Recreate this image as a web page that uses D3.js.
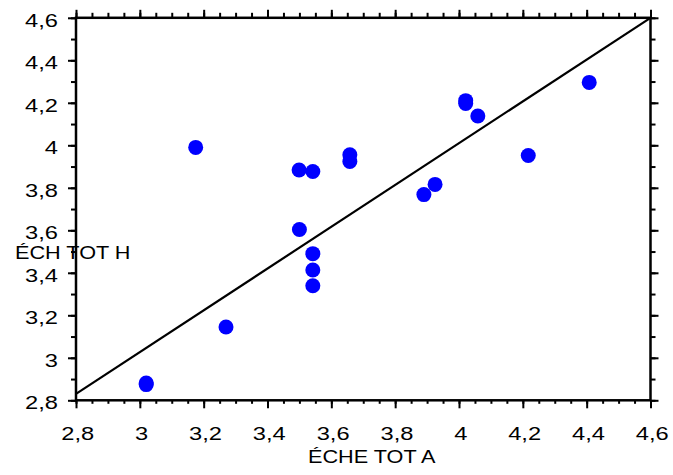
<!DOCTYPE html>
<html>
<head>
<meta charset="utf-8">
<script src="https://cdn.jsdelivr.net/npm/d3@7"></script>
<style>
  body { margin: 0; background: #fff; }
  svg { display: block; font-family: "Liberation Sans", Arial, sans-serif; }
</style>
</head>
<body>
<script>
// values
const xValues = [3.02, 3.02, 3.27, 3.175, 3.499, 3.542, 3.658, 3.658, 3.5, 3.542, 3.542, 3.542,
  3.89, 3.925, 4.021, 4.021, 4.059, 4.217, 4.408];
const yValues = [2.881, 2.874, 3.145, 3.99, 3.884, 3.877, 3.955, 3.924, 3.604, 3.49, 3.413, 3.339,
  3.768, 3.816, 4.21, 4.197, 4.138, 3.952, 4.296];
const lineX = [2.8, 4.6];
const lineY = [2.83, 4.6];
const majorTicks = [2.8, 3, 3.2, 3.4, 3.6, 3.8, 4, 4.2, 4.4, 4.6];
const xMinorTicks = d3.range(2.8, 4.6001, 0.05).map(v => +v.toFixed(2));
const yMinorTicks = d3.range(2.8, 4.6001, 0.1).map(v => +v.toFixed(1));
const xTitle = "ÉCHE TOT A";
const yTitle = "ÉCH TOT H";

const width = 673, height = 475;
const plotLeft = 76, plotRight = 650.5, plotTop = 17.8, plotBottom = 400.3;

const fmt = d3.formatLocale({ decimal: ",", thousands: ".", grouping: [3], currency: ["", ""] }).format(".1~f");

const x = d3.scaleLinear().domain([2.8, 4.6]).range([plotLeft, plotRight]);
const y = d3.scaleLinear().domain([2.8, 4.6]).range([plotBottom, plotTop]);

const svg = d3.select("body").append("svg")
  .attr("width", width)
  .attr("height", height);

const sx = 1.28;

function styleAxis(g) {
  g.select(".domain").remove();
  g.selectAll(".tick line").attr("stroke", "#000").attr("stroke-width", 2);
  g.selectAll("text").attr("fill", "#000").style("font-size", "18.5px");
}

// minor ticks
svg.append("g").attr("transform", `translate(${plotLeft},0)`)
  .call(d3.axisLeft(y).tickValues(yMinorTicks).tickSize(5).tickFormat(""))
  .call(styleAxis);
svg.append("g").attr("transform", `translate(${plotRight},0)`)
  .call(d3.axisRight(y).tickValues(yMinorTicks).tickSize(5).tickFormat(""))
  .call(styleAxis);
svg.append("g").attr("transform", `translate(0,${plotTop})`)
  .call(d3.axisTop(x).tickValues(xMinorTicks).tickSize(5).tickFormat(""))
  .call(styleAxis);
svg.append("g").attr("transform", `translate(0,${plotBottom})`)
  .call(d3.axisBottom(x).tickValues(xMinorTicks).tickSize(3.5).tickFormat(""))
  .call(styleAxis);

// major ticks
svg.append("g").attr("transform", `translate(${plotLeft},0)`)
  .call(d3.axisLeft(y).tickValues(majorTicks).tickSize(8).tickFormat(fmt))
  .call(styleAxis)
  .call(g => g.selectAll("text")
    .attr("x", -18 / sx)
    .attr("dy", 8.5)
    .attr("transform", `scale(${sx},1)`));
svg.append("g").attr("transform", `translate(${plotRight},0)`)
  .call(d3.axisRight(y).tickValues(majorTicks).tickSize(8).tickFormat(""))
  .call(styleAxis);
svg.append("g").attr("transform", `translate(0,${plotTop})`)
  .call(d3.axisTop(x).tickValues(majorTicks).tickSize(8).tickFormat(""))
  .call(styleAxis);
svg.append("g").attr("transform", `translate(0,${plotBottom})`)
  .call(d3.axisBottom(x).tickValues(majorTicks).tickSize(8).tickFormat(fmt))
  .call(styleAxis)
  .call(g => g.selectAll("text")
    .attr("x", 1)
    .attr("y", 40)
    .attr("dy", 0)
    .attr("transform", `scale(${sx},1)`));

// frame
svg.append("rect")
  .attr("x", plotLeft).attr("y", plotTop)
  .attr("width", plotRight - plotLeft).attr("height", plotBottom - plotTop)
  .attr("fill", "none")
  .attr("stroke", "#000")
  .attr("stroke-width", 2.5);

// diagonal line
svg.append("path")
  .datum(lineX.map((d, i) => [d, lineY[i]]))
  .attr("fill", "none")
  .attr("stroke", "#000")
  .attr("stroke-width", 2.2)
  .attr("d", d3.line().x(d => x(d[0])).y(d => y(d[1])));

// points
svg.append("g")
  .selectAll("circle")
  .data(xValues.map((d, i) => [d, yValues[i]]))
  .join("circle")
  .attr("cx", d => x(d[0]))
  .attr("cy", d => y(d[1]))
  .attr("r", 7.5)
  .attr("fill", "#0000ff");

// axis titles
svg.append("text")
  .attr("transform", `translate(308,463) scale(1.14,1)`)
  .style("font-size", "19px")
  .attr("fill", "#000")
  .text(xTitle);
svg.append("text")
  .attr("transform", `translate(15,259) scale(1.14,1)`)
  .style("font-size", "19px")
  .attr("fill", "#000")
  .text(yTitle);
</script>
</body>
</html>
